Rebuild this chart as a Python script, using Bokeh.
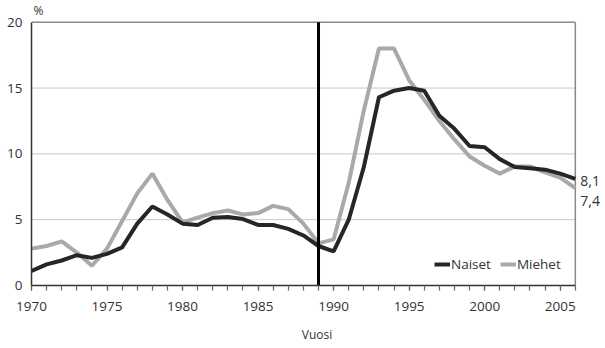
from bokeh.plotting import figure
from bokeh.models import ColumnDataSource, Legend, LegendItem, FixedTicker, Range1d
from bokeh.core.properties import value
from bokeh.embed import file_html
from bokeh.resources import INLINE

years = list(range(1970, 2007))
naiset = [1.1, 1.6, 1.9, 2.3, 2.1, 2.4, 2.9, 4.7, 6.0, 5.4, 4.7, 4.6, 5.15, 5.2, 5.05, 4.6,
          4.6, 4.3, 3.8, 3.0, 2.6, 5.0, 9.0, 14.3, 14.8, 15.0, 14.8, 12.9, 11.9, 10.6, 10.5,
          9.6, 9.0, 8.9, 8.8, 8.5, 8.1]
miehet = [2.8, 3.0, 3.35, 2.5, 1.5, 2.8, 4.9, 7.0, 8.5, 6.5, 4.8, 5.15, 5.5, 5.7, 5.4, 5.5,
          6.05, 5.8, 4.7, 3.2, 3.5, 7.8, 13.3, 18.0, 18.0, 15.6, 14.1, 12.5, 11.1, 9.8, 9.1,
          8.5, 9.05, 9.05, 8.6, 8.2, 7.4]
x_ticks = [1970, 1975, 1980, 1985, 1990, 1995, 2000, 2005]
y_ticks = [0, 5, 10, 15, 20]
break_year = 1989
end_labels = ["8,1", "7,4"]

FONT = "Open Sans"
TXT = "#333333"

src = ColumnDataSource(dict(year=years, naiset=naiset, miehet=miehet))

x0, x1 = years[0], years[-1]
y0, y1 = y_ticks[0], y_ticks[-1]

p = figure(width=604, height=346, output_backend="svg", toolbar_location=None,
           x_range=Range1d(x0, 2007.8), y_range=Range1d(y0, 21.5),
           min_border_left=31, min_border_right=2, min_border_top=2, min_border_bottom=61)

p.background_fill_color = "white"
p.border_fill_color = "white"
p.outline_line_color = None
p.xgrid.grid_line_color = None
p.ygrid.grid_line_color = None

# horizontal grid lines limited to the data span
grid_vals = y_ticks[1:-1]
p.segment(x0=[x0] * len(grid_vals), x1=[x1] * len(grid_vals), y0=grid_vals, y1=grid_vals,
          line_color="#c8c8c8", line_width=1)
# top and right frame lines
p.segment(x0=[x0, x1], x1=[x1, x1], y0=[y1, y0], y1=[y1, y1],
          line_color="#8a8a8a", line_width=1.5)

p.xaxis.bounds = (x0, x1)
p.yaxis.bounds = (y0, y1)

p.xaxis.ticker = FixedTicker(ticks=x_ticks, minor_ticks=years)
p.xaxis.major_tick_in = 0
p.xaxis.major_tick_out = 5
p.xaxis.minor_tick_in = 0
p.xaxis.minor_tick_out = 5
p.xaxis.major_tick_line_color = "#555555"
p.xaxis.major_tick_line_width = 1.2
p.xaxis.minor_tick_line_color = "#666666"
p.xaxis.minor_tick_line_width = 1.2
p.xaxis.axis_line_color = "#333333"
p.xaxis.axis_line_width = 1.5
p.xaxis.major_label_standoff = 11
p.xaxis.axis_label = "Vuosi"
p.xaxis.axis_label_text_font = FONT
p.xaxis.axis_label_text_font_style = "normal"
p.xaxis.axis_label_text_font_size = "12px"
p.xaxis.axis_label_text_color = TXT
p.xaxis.axis_label_standoff = 12

p.yaxis.ticker = FixedTicker(ticks=y_ticks)
p.yaxis.major_tick_line_color = None
p.yaxis.minor_tick_line_color = None
p.yaxis.axis_line_color = "#333333"
p.yaxis.axis_line_width = 1.5
p.yaxis.major_label_standoff = 3

for ax in (p.xaxis, p.yaxis):
    ax.major_label_text_font = FONT
    ax.major_label_text_font_size = "13.5px"
    ax.major_label_text_color = TXT

r_m = p.line("year", "miehet", source=src, line_color="#a9a9a9", line_width=4)
r_n = p.line("year", "naiset", source=src, line_color="#262626", line_width=4)

p.segment(x0=[break_year], x1=[break_year], y0=[y0], y1=[y1], line_color="black", line_width=3)

legend = Legend(items=[LegendItem(label="Naiset", renderers=[r_n]),
                       LegendItem(label="Miehet", renderers=[r_m])],
                location=(403, 11), orientation="horizontal",
                border_line_color=None, background_fill_alpha=0,
                label_text_font=FONT, label_text_font_size="13.5px", label_text_color=TXT,
                glyph_width=16, label_standoff=1, spacing=9, padding=0, margin=0)
p.add_layout(legend)

# end value labels
p.text(x=[x1, x1], y=[naiset[-1], miehet[-1]], text=end_labels,
       x_offset=5, y_offset=[2, 13],
       text_font=value(FONT), text_font_size="14px", text_color=TXT,
       text_baseline="middle", text_align="left")
# unit label above the y axis
p.text(x=[x0], y=[y1], text=["%"], x_offset=2, y_offset=-12,
       text_font=value(FONT), text_font_size="12px", text_color=TXT,
       text_baseline="middle", text_align="left")

open("out.html", "w").write(file_html(p, INLINE))
